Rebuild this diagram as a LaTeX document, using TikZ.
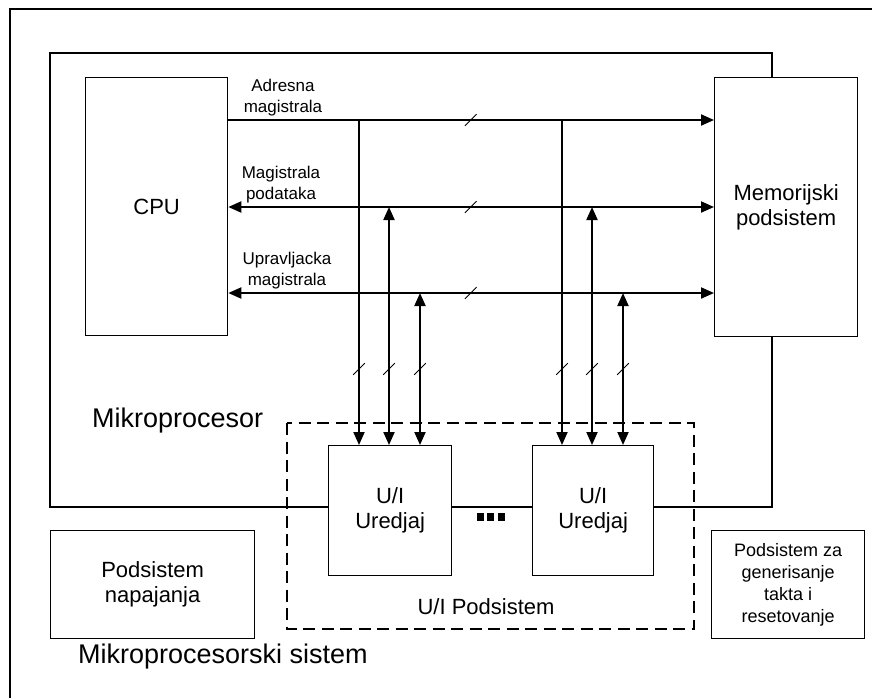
\documentclass[tikz,border=0pt]{standalone}
\usepackage{fontspec}
\setmainfont{Liberation Sans}
\usetikzlibrary{arrows.meta}
\newcommand\busslash[1]{\draw[slash] (#1) ++(-5.8,5.8) -- ++(11.6,-11.6);}
\begin{document}
\begin{tikzpicture}[x=1pt,y=-1pt,
  frame/.style={draw, line width=1.3pt},
  blk/.style={draw, line width=1.3pt, fill=white, inner sep=0pt, anchor=north west,
    align=center, font=\fontsize{22}{25}\selectfont},
  groupbox/.style={draw, line width=2.3pt, dash pattern=on 12pt off 6.5pt},
  bus/.style={line width=2pt},
  onetip/.style={-{Triangle[length=13pt,width=11pt]}},
  twotips/.style={{Triangle[length=13pt,width=11pt]}-{Triangle[length=13pt,width=11pt]}},
  slash/.style={line width=1pt},
  buslabel/.style={inner sep=0pt, anchor=south, align=center, font=\fontsize{17}{21}\selectfont},
  title/.style={inner sep=0pt, anchor=base west, font=\fontsize{27}{32}\selectfont}
]
\useasboundingbox (0,0) rectangle (872,697);
\clip (0,0) rectangle (872,697);

% whole system frame and the microprocessor frame
\draw[frame] (10,9) rectangle (884,709);
\draw[frame] (50,53) rectangle (772,507);

% functional blocks
\node[blk, minimum width=142pt, minimum height=258pt] (cpu) at (85,77) {CPU};
\node[blk, minimum width=143pt, minimum height=259pt] (mem) at (714,77) {Memorijski\\podsistem};
\node[blk, minimum width=123pt, minimum height=130pt] (io1) at (328,445) {U/I\\Uredjaj};
\node[blk, minimum width=121pt, minimum height=130pt] (io2) at (532,445) {U/I\\Uredjaj};
\node[blk, minimum width=204pt, minimum height=108pt] (power) at (50,530) {Podsistem\\napajanja};
\node[blk, minimum width=153pt, minimum height=108pt, font=\fontsize{18}{21.8}\selectfont]
  (clock) at (711,530) {Podsistem za\\generisanje\\takta i\\resetovanje};

% I/O subsystem group
\draw[groupbox] (287,423) rectangle (694,629);
\node[inner sep=0pt, font=\fontsize{22}{25}\selectfont] (iotext) at (486,606.5) {U/I Podsistem};

% ellipsis between the I/O devices
\fill (477,513) rectangle (484,521);
\fill (487,513) rectangle (494,521);
\fill (498,513) rectangle (505,521);

% titles
\node[title] (mptitle) at (92,427) {Mikroprocesor};
\node[title] (systitle) at (78,663) {Mikroprocesorski sistem};

% buses
\draw[bus, onetip] (cpu.east |- 0,120) -- (mem.west |- 0,120);
\draw[bus, twotips] (cpu.east |- 0,207) -- (mem.west |- 0,207);
\draw[bus, twotips] (cpu.east |- 0,293) -- (mem.west |- 0,293);

\node[buslabel] (adrlabel) at (283,116.7) {Adresna\\magistrala};
\node[buslabel] (datlabel) at (281,203.6) {Magistrala\\podataka};
\node[buslabel] (ctllabel) at (287,289.7) {Upravljacka\\magistrala};

% taps from the buses to the I/O devices
\coordinate (a1) at (359,120);
\coordinate (d1) at (389,207);
\coordinate (c1) at (420,293);
\coordinate (a2) at (562,120);
\coordinate (d2) at (592,207);
\coordinate (c2) at (623,293);

\draw[bus, onetip] (a1) -- (a1 |- io1.north);
\draw[bus, twotips] (io1.north -| d1) -- (d1);
\draw[bus, twotips] (io1.north -| c1) -- (c1);
\draw[bus, onetip] (a2) -- (a2 |- io2.north);
\draw[bus, twotips] (io2.north -| d2) -- (d2);
\draw[bus, twotips] (io2.north -| c2) -- (c2);

% bus width marks
\busslash{470.7,120}
\busslash{470.7,207}
\busslash{470.7,293}
\busslash{359,369}
\busslash{389,369}
\busslash{420,369}
\busslash{562,369}
\busslash{592,369}
\busslash{623,369}
\end{tikzpicture}
\end{document}
